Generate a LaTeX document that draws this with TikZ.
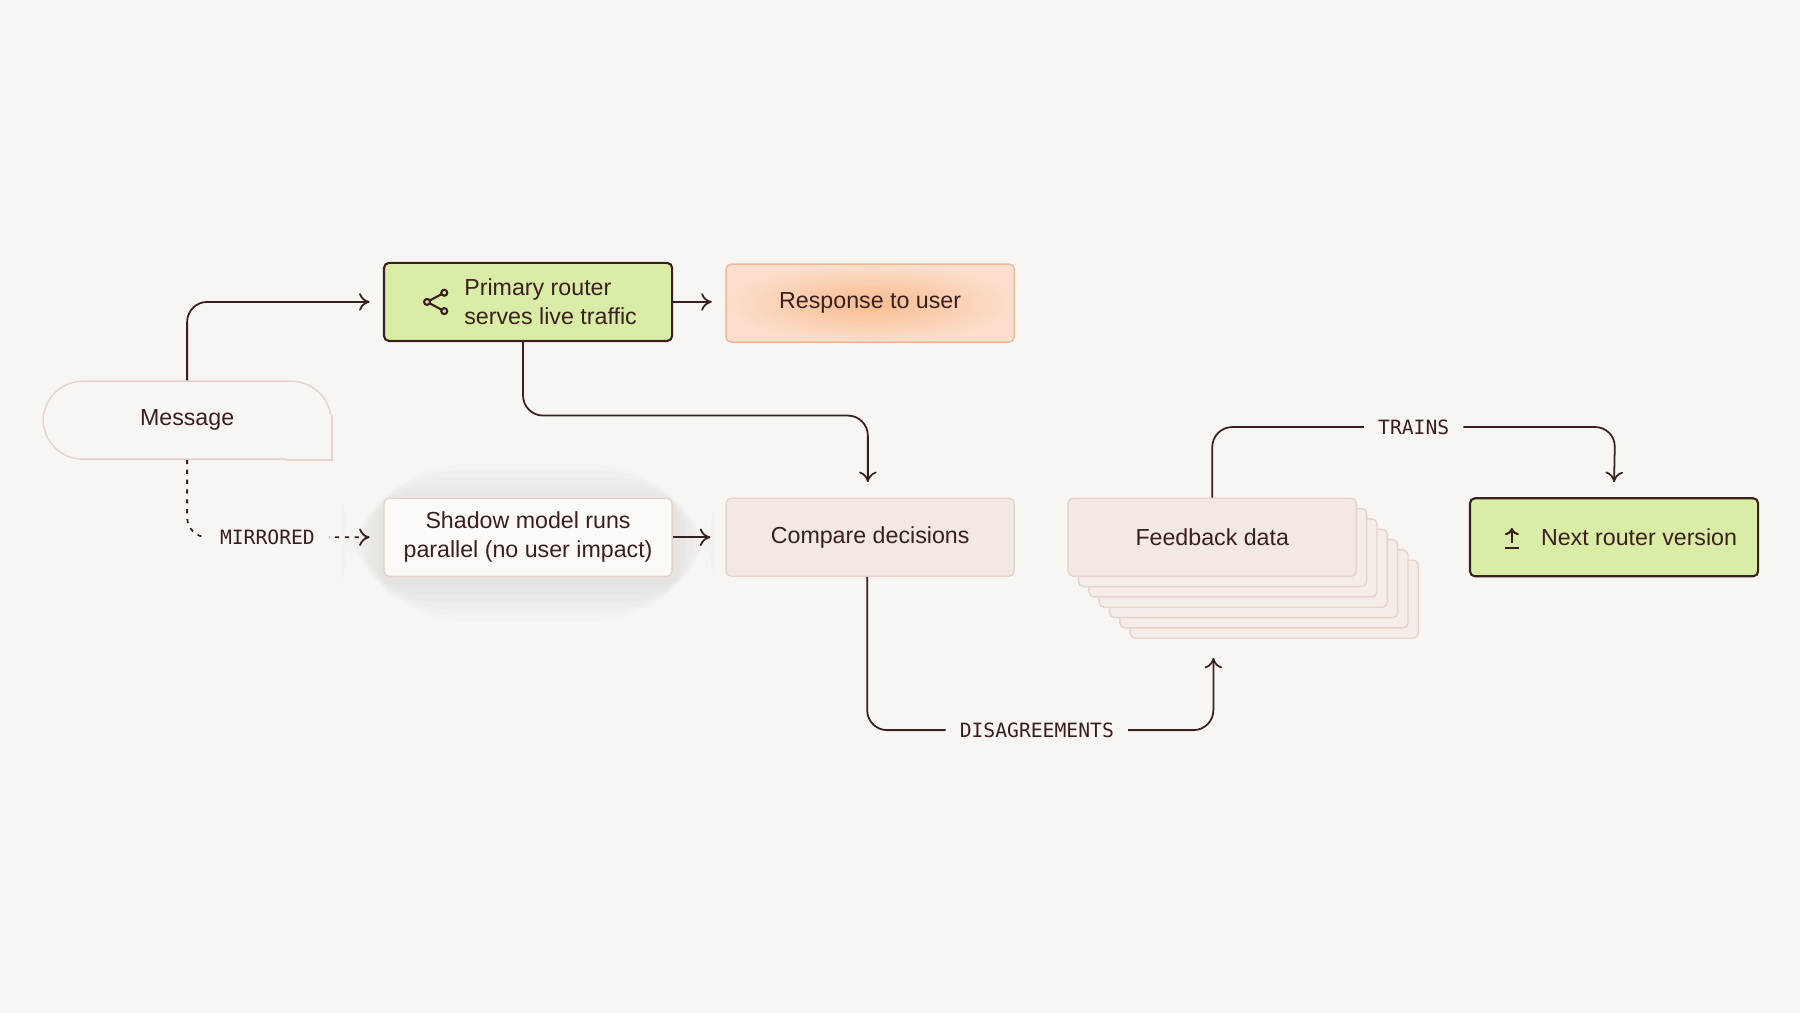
\documentclass[tikz,border=0pt]{standalone}
\usepackage{fontspec}
\setmainfont{Liberation Sans}
\newfontfamily\labelfont{DejaVu Sans Mono}
\usetikzlibrary{positioning,arrows.meta}
\definecolor{ink}{HTML}{3A1F1F}
\definecolor{paper}{HTML}{F8F6F2}
\definecolor{leaf}{HTML}{DAEDA6}
\definecolor{peach}{HTML}{F8C3A0}
\definecolor{peachline}{HTML}{F0B896}
\definecolor{sand}{HTML}{F2E9E4}
\definecolor{sandline}{HTML}{E4D3CB}
\tikzset{
	box/.style={rectangle,rounded corners=0.05cm,minimum width=2.88cm,minimum height=0.78cm,
		align=center,font=\fontsize{6.6}{8.2}\selectfont,text=ink,line width=0.4pt},
	greenbox/.style={box,draw=ink,fill=leaf,line width=0.6pt},
	sandbox/.style={box,draw=sandline,fill=sand},
	flow/.style={draw=ink,line width=0.5pt,rounded corners=0.2cm,-{To[length=3pt,width=5pt]}},
	tag/.style={font=\labelfont\fontsize{5.6}{6}\selectfont,text=ink,fill=paper,inner xsep=4pt}
}
\begin{document}
\begin{tikzpicture}[x=0.01148cm,y=-0.01148cm]
	\useasboundingbox[fill=paper] (0,0) rectangle (1568,882);

	% soft glow under the shadow model
	\foreach \r in {36,30,...,6}
		\fill[black,opacity=0.012,rounded corners=\r] (335-\r,440-\r) rectangle (586+\r,506+\r);

	\node[greenbox,align=left] (primary) at (460,263) {\hspace*{0.45cm}Primary router\\\hspace*{0.45cm}serves live traffic};
	\node[box,draw=peachline,inner color=peach!90!orange,outer color=peach!55!white] (response) at (758,264) {Response to user};
	\node[box,draw=sandline,fill=paper,rounded corners=0.4cm] (message) at (163,366) {Message};
	\fill[paper] ([xshift=-0.45cm]message.south east) rectangle ([yshift=0.45cm]message.south east);
	\draw[sandline,line width=0.4pt] ([xshift=-0.45cm]message.south east) -- (message.south east) -- ([yshift=0.45cm]message.south east);
	\node[box,draw=sandline,fill=paper!60!white] (shadow) at (460,468) {Shadow model runs\\parallel (no user impact)};
	\node[sandbox] (compare) at (758,468) {Compare decisions};
	\foreach \k in {6,5,...,1}
		\node[sandbox,fill=sand!80!white] (stack\k) at (1056+9*\k,468+9*\k) {};
	\node[sandbox] (feedback) at (1056,468) {Feedback data};
	\node[greenbox] (next) at (1406,468) {\hspace*{0.5cm}Next router version};

	% icons
	\begin{scope}[shift={(380,263)},line width=0.6pt,draw=ink]
		\draw (-8,0) -- (7,-8) (-8,0) -- (7,8);
		\draw[fill=leaf] (-8,0) circle (2.6) (7,-8) circle (2.6) (7,8) circle (2.6);
	\end{scope}
	\begin{scope}[shift={(1317,468)},line width=0.6pt,draw=ink]
		\draw (-6,9) -- (6,9);
		\draw[-{To[length=2pt,width=4pt]}] (0,5) -- (0,-8);
	\end{scope}

	% coordinates for connector ends
	\coordinate (primaryin) at (322,263);
	\coordinate (responsein) at (620,263);
	\coordinate (shadowin) at (322,468);
	\coordinate (comparein) at (756,420);
	\coordinate (feedbackin) at (1057,573);

	\draw[flow] (message.north) |- (primaryin);
	\draw[flow] (primary.east) -- (responsein);
	\draw[flow] ([xshift=-0.05cm]primary.south) |- (756,362) -- (comparein);
	\draw[flow] (shadow.east) -- ([xshift=-0.15cm]compare.west);
	\draw[flow,dash pattern=on 1.2pt off 1.6pt] (message.south) |- (shadowin) node[tag,pos=0.72] {MIRRORED};
	\draw[flow] ([xshift=-0.03cm]compare.south) |- (1057,636) node[tag,pos=0.745] {DISAGREEMENTS} -- (feedbackin);
	\draw[flow] (feedback.north) |- (1407,372) node[tag,pos=0.75] {TRAINS} -- ([yshift=0.15cm]next.north);
\end{tikzpicture}
\end{document}
